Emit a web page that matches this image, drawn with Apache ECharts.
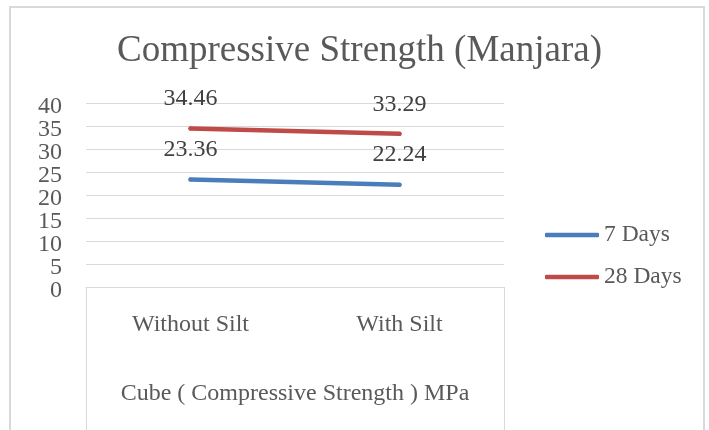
<!DOCTYPE html>
<html>
<head>
<meta charset="utf-8">
<script src="https://cdn.jsdelivr.net/npm/echarts@6/dist/echarts.min.js"></script>
<style>
html,body{margin:0;padding:0;background:#fff;}
#chart{width:709px;height:430px;position:relative;}
#frame{position:absolute;left:9px;top:6px;width:696px;height:440px;border:2px solid #d9d9d9;box-sizing:border-box;pointer-events:none;}
</style>
</head>
<body>
<div id="chart"></div>
<div id="frame"></div>
<script>
var categories = ['Without Silt', 'With Silt'];
var groupLabel = ['Cube ( Compressive Strength ) MPa'];
var days7 = [23.36, 22.24];
var days28 = [34.46, 33.29];
var seriesNames = ['7 Days', '28 Days'];
var yMin = 0, yMax = 40, yStep = 5;
// labels drawn by the second (overlay) y axis, those the first one would drop for crowding
var secondaryTicks = [5, 35];

var FONT = 'Liberation Serif, Times New Roman, serif';
var TXT = '#595959';

function yLabelAxis(showFn, withGrid) {
  return {
    type: 'value',
    position: 'left',
    min: yMin,
    max: yMax,
    interval: yStep,
    axisLine: {show: false},
    axisTick: {show: false},
    splitLine: {show: withGrid, lineStyle: {color: '#d9d9d9', width: 1}},
    axisLabel: {margin: 24, color: TXT, fontFamily: FONT, fontSize: 24, lineHeight: 16,
      showMinLabel: true, showMaxLabel: true,
      formatter: function (v) { return showFn(v) ? '{a|' + v + '}' : ''; },
      rich: {a: {fontFamily: FONT, fontSize: 24, lineHeight: 16, color: TXT, padding: [7, 0, 0, 0]}}}
  };
}

var chart = echarts.init(document.getElementById('chart'));
chart.setOption({
  animation: false,
  title: {
    text: 'Compressive Strength (Manjara)',
    left: 112,
    top: 28,
    textStyle: {fontFamily: FONT, fontSize: 37, fontWeight: 'normal', color: TXT}
  },
  legend: {
    orient: 'vertical',
    left: 540,
    top: 218,
    icon: 'roundRect',
    itemWidth: 54,
    itemHeight: 4.5,
    itemGap: 18,
    textStyle: {fontFamily: FONT, fontSize: 23.5, color: TXT},
    data: seriesNames
  },
  grid: {left: 86, right: 205, top: 103, bottom: 143},
  xAxis: [{
    type: 'category',
    data: categories,
    boundaryGap: true,
    axisLine: {show: true, lineStyle: {color: '#d9d9d9', width: 1}},
    axisTick: {show: false},
    axisLabel: {margin: 26, fontFamily: FONT, fontSize: 24, color: TXT}
  }, {
    type: 'category',
    data: groupLabel,
    position: 'bottom',
    boundaryGap: true,
    axisLine: {show: false},
    axisTick: {show: true, length: 160, lineStyle: {color: '#d9d9d9', width: 1}},
    axisLabel: {margin: 95, fontFamily: FONT, fontSize: 24, color: TXT}
  }],
  yAxis: [
    yLabelAxis(function (v) { return secondaryTicks.indexOf(v) < 0; }, true),
    yLabelAxis(function (v) { return secondaryTicks.indexOf(v) >= 0; }, false)
  ],
  series: [{
    name: seriesNames[0],
    type: 'line',
    data: days7,
    xAxisIndex: 0,
    yAxisIndex: 0,
    symbol: 'circle',
    symbolSize: 4,
    itemStyle: {color: '#4a7ebb'},
    lineStyle: {color: '#4a7ebb', width: 4.5, cap: 'round'},
    label: {show: true, position: 'top', distance: 15.5, fontFamily: FONT, fontSize: 24, color: '#404040'}
  }, {
    name: seriesNames[1],
    type: 'line',
    data: days28,
    xAxisIndex: 0,
    yAxisIndex: 0,
    symbol: 'circle',
    symbolSize: 4,
    itemStyle: {color: '#be4b48'},
    lineStyle: {color: '#be4b48', width: 4.5, cap: 'round'},
    label: {show: true, position: 'top', distance: 15.5, fontFamily: FONT, fontSize: 24, color: '#404040'}
  }]
});
</script>
</body>
</html>
